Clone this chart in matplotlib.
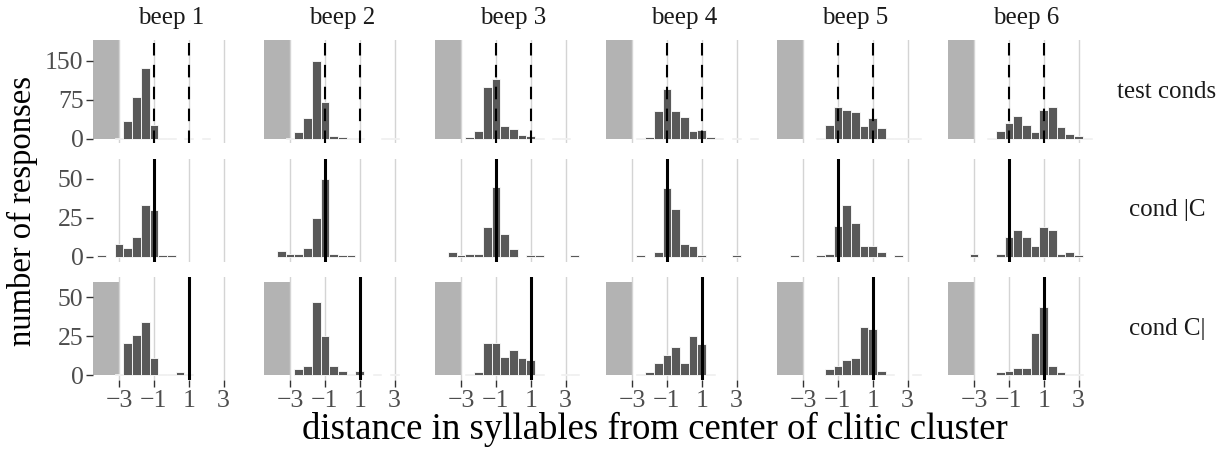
import matplotlib
matplotlib.use("Agg")
import matplotlib.pyplot as plt

plt.rcParams['font.family'] = ['Liberation Serif', 'DejaVu Serif']

# bin centres (width 0.5)
bins = [-4, -3.5, -3, -2.5, -2, -1.5, -1, -0.5, 0, 0.5, 1, 1.5, 2, 2.5, 3, 3.5, 4]
beeps = ['beep 1', 'beep 2', 'beep 3', 'beep 4', 'beep 5', 'beep 6']
conds = ['test conds', 'cond |C', 'cond C|']

# counts per beep, one list per panel
test_conds = [
    [0, 0, 2, 34, 81, 137, 27, 1, 1, 0, 1, 0, 1, 0, 0, 0, 0],
    [0, 0, 1, 12, 39, 150, 70, 6, 4, 2, 1, 0, 0, 1, 1, 0, 0],
    [0, 0, 0, 3, 15, 99, 114, 25, 18, 7, 5, 1, 0, 1, 1, 0, 0],
    [0, 0, 0, 2, 4, 53, 95, 53, 41, 15, 17, 4, 1, 0, 2, 0, 1],
    [0, 0, 0, 0, 2, 26, 60, 55, 51, 24, 39, 20, 2, 1, 2, 1, 0],
    [0, 0, 0, 0, 1, 15, 31, 43, 27, 13, 55, 60, 22, 8, 6, 1, 0],
]
cond_lC = [
    [1, 0, 8, 6, 13, 33, 30, 1, 1, 0, 0, 0, 0, 0, 0, 0, 0],
    [0, 4, 2, 2, 6, 25, 50, 2, 1, 1, 0, 0, 0, 0, 0, 0, 0],
    [0, 3, 1, 2, 2, 19, 45, 15, 5, 0, 1, 1, 0, 0, 0, 1, 0],
    [0, 0, 0, 1, 0, 3, 44, 31, 8, 7, 1, 0, 0, 0, 1, 0, 0],
    [0, 1, 0, 0, 1, 2, 20, 33, 22, 7, 7, 3, 0, 1, 0, 0, 0],
    [0, 0, 2, 0, 0, 2, 13, 17, 13, 7, 19, 17, 2, 3, 1, 0, 0],
]
cond_Cl = [
    [0, 0, 1, 21, 26, 34, 11, 1, 1, 2, 1, 0, 0, 0, 0, 0, 0],
    [0, 0, 0, 4, 6, 47, 25, 6, 3, 1, 3, 0, 1, 0, 1, 0, 0],
    [0, 0, 0, 1, 2, 21, 21, 12, 16, 11, 10, 1, 0, 0, 1, 1, 0],
    [0, 0, 0, 1, 2, 8, 13, 18, 8, 25, 20, 1, 0, 0, 0, 0, 0],
    [0, 0, 0, 0, 0, 4, 6, 10, 11, 31, 30, 3, 1, 0, 0, 1, 0],
    [0, 0, 0, 0, 0, 2, 3, 5, 5, 27, 44, 6, 2, 1, 1, 0, 0],
]
counts = [test_conds, cond_lC, cond_Cl]

# per row: y limits, y ticks, vline positions, shaded region top (None = no shading)
ylims = [(-9, 190), (-3.15, 63.15), (-3.15, 63.15)]
yticks = [[0, 75, 150], [0, 25, 50], [0, 25, 50]]
vlines = [[-1, 1], [-1], [1]]
shade_top = [190, None, 60]
xticks = [-3, -1, 1, 3]
xlim = (-4.48, 4.48)

W, H = 1229, 449
fig = plt.figure(figsize=(W / 100, H / 100), dpi=100)

col_left = [93.3 + 171 * i for i in range(6)]
panel_w = 156
row_top = [40, 158.5, 277]
panel_h = 103.3

for r in range(3):
    for c in range(6):
        ax = fig.add_axes([col_left[c] / W, 1 - (row_top[r] + panel_h) / H,
                           panel_w / W, panel_h / H])
        ax.set_xlim(*xlim)
        ax.set_ylim(*ylims[r])
        for s in ax.spines.values():
            s.set_visible(False)
        ax.set_xticks(xticks)
        ax.set_yticks(yticks[r])
        ax.grid(axis='x', color='#d4d4d4', linewidth=1.0, zorder=0)
        ax.set_axisbelow(True)
        if shade_top[r] is not None:
            y0, y1 = ylims[r]
            ax.axvspan(xlim[0], -3, ymin=(0 - y0) / (y1 - y0),
                       ymax=(shade_top[r] - y0) / (y1 - y0),
                       color='#b3b3b3', linewidth=0, zorder=0.5)
        xs = [b for b, n in zip(bins, counts[r][c]) if n > 0]
        ns = [n for n in counts[r][c] if n > 0]
        ax.bar(xs, ns, width=0.5, color='#595959', edgecolor='white',
               linewidth=0.6, zorder=2)
        for v in vlines[r]:
            if r == 0:
                ax.axvline(v, color='black', linewidth=1.5, dashes=(6, 4.5), zorder=3)
            else:
                ax.axvline(v, color='black', linewidth=2.2, zorder=3)
        ax.tick_params(length=5, width=1, color='#333333', labelcolor='#4d4d4d',
                       labelsize=18.5, pad=2)
        ax.tick_params(axis='x', pad=2)
        if c != 0:
            ax.tick_params(axis='y', left=False, labelleft=False)
        if r != 2:
            ax.tick_params(axis='x', bottom=False, labelbottom=False)
        else:
            ax.set_xticklabels(['\u22123', '\u22121', '1', '3'])

for c in range(6):
    fig.text((col_left[c] + panel_w / 2) / W, 1 - 18 / H, beeps[c],
             ha='center', va='center', fontsize=18, color='#1a1a1a')
for r in range(3):
    fig.text(1167 / W, 1 - (row_top[r] + panel_h / 2) / H, conds[r],
             ha='center', va='center', fontsize=18, color='#1a1a1a')

fig.text(22 / W, 1 - 211 / H, 'number of responses', rotation=90,
         ha='center', va='center', fontsize=23.5, color='#000000')
fig.text(655 / W, 1 - 429 / H, 'distance in syllables from center of clitic cluster',
         ha='center', va='center', fontsize=26.5, color='#000000')

fig.savefig('out.png', dpi=100)
